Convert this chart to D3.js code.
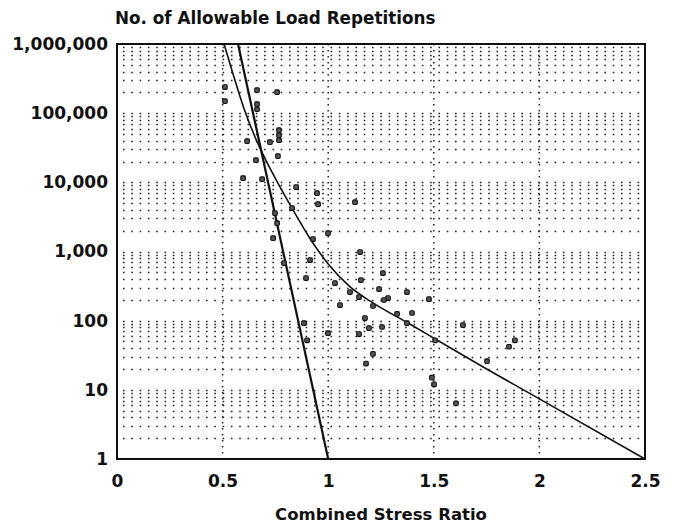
<!DOCTYPE html>
<html>
<head>
<meta charset="utf-8">
<script src="https://cdn.jsdelivr.net/npm/d3@7"></script>
<style>
	body {margin: 0; background: #fff;}
	svg text {font-family: 'DejaVu Sans', 'Liberation Sans', Arial, sans-serif; font-weight: bold; fill: #111;}
</style>
</head>
<body>
<div id="chart"></div>
<script>
(function() {
	'use strict';

	var xTicks = [0, 0.5, 1, 1.5, 2, 2.5];
	var xTickLabels = ['0', '0.5', '1', '1.5', '2', '2.5'];
	var yTicks = [1, 10, 100, 1000, 10000, 100000, 1000000];
	var yTickLabels = ['1', '10', '100', '1,000', '10,000', '100,000', '1,000,000'];

	// straight fatigue line (stress ratio, repetitions)
	var steepRatio = [0.573, 1.0];
	var steepReps = [1000000, 1];

	// curved fatigue line
	var curveRatio = [0.507, 0.55, 0.60, 0.65, 0.70, 0.76, 0.83, 0.92, 1.0, 1.1, 1.21, 1.37, 1.5, 1.75, 2.0, 2.5];
	var curveReps = [1000000, 363000, 120000, 47900, 22400, 10000, 4170, 1445, 661, 316, 182, 95.5, 56, 20, 7.4, 1];

	// test results
	var pointRatio = [0.511, 0.511, 0.663, 0.758, 0.663, 0.663, 0.767, 0.767, 0.767, 0.616,
		0.724, 0.658, 0.762, 0.597, 0.687, 0.848, 0.947, 0.952, 1.127, 0.829,
		0.748, 0.758, 0.739, 0.999, 0.928, 1.151, 0.914, 0.791, 0.895, 1.032,
		1.155, 1.103, 1.146, 1.056, 1.259, 1.241, 1.373, 1.283, 1.264, 1.477,
		1.212, 1.326, 1.397, 1.373, 1.174, 1.193, 1.255, 1.146, 1.638, 1.506,
		1.212, 1.179, 1.752, 1.856, 1.884, 1.491, 1.501, 1.605, 0.885, 0.900, 0.999];
	var pointReps = [238000, 149000, 215000, 201000, 135000, 114000, 56800, 48100, 40700, 39400,
		38100, 20900, 23900, 11500, 11100, 8530, 6980, 4840, 5170, 4240,
		3590, 2570, 1560, 1840, 1510, 980, 751, 680, 413, 349,
		386, 259, 219, 168, 488, 286, 259, 212, 199, 205,
		163, 125, 129, 92, 109, 78, 81, 64, 86, 52,
		33, 24, 26, 42, 52, 15, 12, 6.4, 92, 52, 66];

	var W = 677, H = 526;
	var margin = {left: 117, top: 44, right: 32, bottom: 67};
	var w = W - margin.left - margin.right;
	var h = H - margin.top - margin.bottom;

	var svg = d3.select('#chart').append('svg')
		.attr('width', W).attr('height', H);
	var g = svg.append('g')
		.attr('transform', 'translate(' + margin.left + ',' + margin.top + ')');

	var x = d3.scaleLinear().domain([0, 2.5]).range([0, w]);
	var y = d3.scaleLog().domain([1, 1000000]).range([h, 0]);

	// minor horizontal grid: 2..9 within every decade
	var minor = [];
	yTicks.slice(0, -1).forEach(function(d) {
		for (var k = 2; k <= 9; ++k) {minor.push(d * k);}});
	minor = minor.concat(yTicks.slice(1, -1));

	g.append('g').attr('class', 'hgrid')
		.selectAll('line').data(minor).enter().append('line')
		.attr('x1', 0).attr('x2', w)
		.attr('y1', function(d) {return Math.round(y(d)) + 0.5;})
		.attr('y2', function(d) {return Math.round(y(d)) + 0.5;})
		.attr('stroke', '#222')
		.attr('stroke-width', 1.6)
		.attr('stroke-dasharray', '1.6,6.7')
		.attr('stroke-dashoffset', -6);

	g.append('g').attr('class', 'vgrid')
		.selectAll('line').data(xTicks.slice(1, -1)).enter().append('line')
		.attr('x1', function(d) {return x(d);})
		.attr('x2', function(d) {return x(d);})
		.attr('y1', 0).attr('y2', h)
		.attr('stroke', '#222')
		.attr('stroke-width', 1.5)
		.attr('stroke-dasharray', '1.5,4.5');

	// frame
	g.append('rect')
		.attr('x', 0).attr('y', 0).attr('width', w).attr('height', h)
		.attr('fill', 'none').attr('stroke', '#111').attr('stroke-width', 2);

	// axes
	var xAxis = d3.axisBottom(x).tickValues(xTicks)
		.tickFormat(function(d, i) {return xTickLabels[i];})
		.tickSize(0).tickPadding(16);
	var yAxis = d3.axisLeft(y).tickValues(yTicks)
		.tickFormat(function(d, i) {return yTickLabels[i];})
		.tickSize(0).tickPadding(9);

	var gx = g.append('g').attr('transform', 'translate(0,' + h + ')').call(xAxis);
	var gy = g.append('g').call(yAxis);
	[gx, gy].forEach(function(ax) {
		ax.select('.domain').remove();
		ax.selectAll('text')
			.attr('font-size', 17)
			.attr('font-family', 'DejaVu Sans, Liberation Sans, Arial, sans-serif')
			.attr('font-weight', 'bold')
			.attr('fill', '#111');});

	// lines
	var line = d3.line()
		.x(function(d) {return x(d[0]);})
		.y(function(d) {return y(d[1]);});

	g.append('path')
		.datum(steepRatio.map(function(r, i) {return [r, steepReps[i]];}))
		.attr('d', line)
		.attr('fill', 'none').attr('stroke', '#111').attr('stroke-width', 2.2);

	g.append('path')
		.datum(curveRatio.map(function(r, i) {return [r, curveReps[i]];}))
		.attr('d', line.curve(d3.curveMonotoneX))
		.attr('fill', 'none').attr('stroke', '#111').attr('stroke-width', 1.6);

	// points
	g.append('g').selectAll('rect')
		.data(pointRatio.map(function(r, i) {return [r, pointReps[i]];}))
		.enter().append('rect')
		.attr('x', function(d) {return x(d[0]) - 2.3;})
		.attr('y', function(d) {return y(d[1]) - 2.3;})
		.attr('width', 4.6).attr('height', 4.6)
		.attr('rx', 1.2)
		.attr('fill', '#555').attr('stroke', '#111').attr('stroke-width', 1.1);

	// titles
	svg.append('text')
		.attr('x', 115).attr('y', 24)
		.attr('font-size', 16.8)
		.text('No. of Allowable Load Repetitions');

	svg.append('text')
		.attr('x', margin.left + w / 2).attr('y', 520)
		.attr('text-anchor', 'middle')
		.attr('font-size', 16.5)
		.text('Combined Stress Ratio');
})();
</script>
</body>
</html>
